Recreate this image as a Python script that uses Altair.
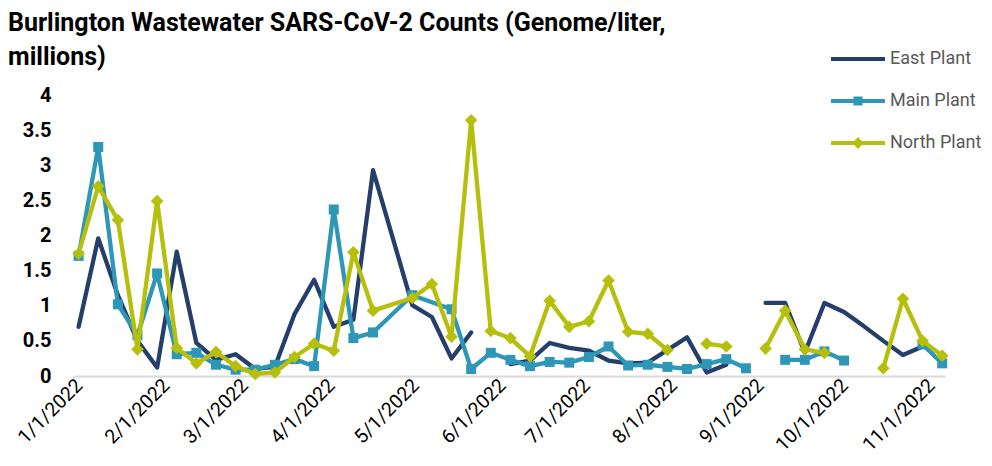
import altair as alt
import pandas as pd

# ---- data ----
dates = [
    "2022-01-03", "2022-01-10", "2022-01-17", "2022-01-24", "2022-01-31",
    "2022-02-07", "2022-02-14", "2022-02-21", "2022-02-28", "2022-03-07",
    "2022-03-14", "2022-03-21", "2022-03-28", "2022-04-04", "2022-04-11",
    "2022-04-18", "2022-04-25", "2022-05-02", "2022-05-09", "2022-05-16",
    "2022-05-23", "2022-05-30", "2022-06-06", "2022-06-13", "2022-06-20",
    "2022-06-27", "2022-07-04", "2022-07-11", "2022-07-18", "2022-07-25",
    "2022-08-01", "2022-08-08", "2022-08-15", "2022-08-22", "2022-08-29",
    "2022-09-05", "2022-09-12", "2022-09-19", "2022-09-26", "2022-10-03",
    "2022-10-10", "2022-10-17", "2022-10-24", "2022-10-31", "2022-11-07",
]

east = [
    0.70, 1.96, 1.15, 0.50, 0.12,
    1.77, 0.47, 0.23, 0.31, 0.10,
    0.13, 0.88, 1.37, 0.70, 0.80,
    2.93, None, 1.01, 0.84, 0.25,
    0.62, None, 0.17, 0.22, 0.47,
    0.40, 0.36, 0.22, 0.18, 0.19,
    0.37, 0.55, 0.05, 0.16, None,
    1.04, 1.04, 0.33, 1.04, 0.91,
    0.71, 0.50, 0.30, 0.42, None,
]

main = [
    1.71, 3.26, 1.02, 0.58, 1.46,
    0.31, 0.33, 0.16, 0.09, 0.09,
    0.16, 0.24, 0.14, 2.37, 0.54,
    0.62, None, 1.15, None, 0.95,
    0.10, 0.33, 0.23, 0.14, 0.20,
    0.19, 0.27, 0.42, 0.15, 0.16,
    0.13, 0.10, 0.17, 0.24, 0.11,
    None, 0.23, 0.23, 0.35, 0.22,
    None, None, None, 0.45, 0.18,
]

north = [
    1.74, 2.70, 2.22, 0.38, 2.49,
    0.40, 0.18, 0.34, 0.14, 0.03,
    0.05, 0.27, 0.46, 0.36, 1.76,
    0.93, None, 1.11, 1.31, 0.56,
    3.64, 0.64, 0.54, 0.28, 1.07,
    0.70, 0.78, 1.36, 0.63, 0.60,
    0.37, None, 0.46, 0.42, None,
    0.39, 0.93, 0.38, 0.33, None,
    None, 0.11, 1.10, 0.50, 0.29,
]

# missing samples on these dates do not break the plotted line
connected_dates = {"2022-04-25", "2022-05-09"}

series_names = ["East Plant", "Main Plant", "North Plant"]
series_values = [east, main, north]
colors = ["#243F6C", "#2E97B8", "#B6BF0B"]
month_ticks = [f"2022-{m:02d}-01" for m in range(1, 12)]

rows = []
for name, vals in zip(series_names, series_values):
    seg = 0
    for d, v in zip(dates, vals):
        if v is None:
            if d not in connected_dates:
                seg += 1
            continue
        rows.append({"date": d, "value": v, "series": name, "seg": f"{name}-{seg}"})
df = pd.DataFrame(rows)

font = "Roboto, Liberation Sans, sans-serif"
color_of = dict(zip(series_names, colors))

x_enc = alt.X(
    "date:T",
    scale=alt.Scale(domain=["2022-01-01", "2022-11-08"]),
    axis=alt.Axis(
        values=month_ticks,
        format="%-m/%-d/%Y",
        labelAngle=-45,
        labelAlign="right",
        labelBaseline="middle",
        labelFontSize=19.5,
        labelColor="#000000",
        labelFont=font,
        labelPadding=0,
        labelOffset=6,
        labelOverlap=False,
        labelBound=False,
        domainColor="#D9D9D9",
        domainWidth=2,
        tickColor="#D9D9D9",
        tickWidth=2,
        tickSize=6,
        grid=False,
        title=None,
    ),
)
y_enc = alt.Y(
    "value:Q",
    scale=alt.Scale(domain=[0, 4]),
    axis=alt.Axis(
        values=[0, 0.5, 1, 1.5, 2, 2.5, 3, 3.5, 4],
        format="~g",
        labelFontSize=20,
        labelFontWeight="bold",
        labelColor="#000000",
        labelFont=font,
        labelPadding=22,
        ticks=False,
        domain=False,
        grid=False,
        title=None,
    ),
)

base = alt.Chart(df)

def line_layer(name):
    return base.transform_filter(alt.datum.series == name).mark_line(
        strokeWidth=4.3, strokeJoin="round", strokeCap="round", color=color_of[name]
    ).encode(x=x_enc, y=y_enc, detail="seg:N")

main_pts = base.transform_filter(alt.datum.series == "Main Plant").mark_point(
    shape="square", filled=True, size=100, opacity=1, color=color_of["Main Plant"]
).encode(x=x_enc, y=y_enc)

north_pts = base.transform_filter(alt.datum.series == "North Plant").mark_point(
    shape="diamond", filled=True, size=160, opacity=1, color=color_of["North Plant"]
).encode(x=x_enc, y=y_enc)

# legend symbols: line with marker
sym_east = "M-1.42,-0.1L1.42,-0.1L1.42,0.1L-1.42,0.1Z"
sym_main = ("M-1.42,-0.1L-0.24,-0.1L-0.24,-0.24L0.24,-0.24L0.24,-0.1L1.42,-0.1"
            "L1.42,0.1L0.24,0.1L0.24,0.24L-0.24,0.24L-0.24,0.1L-1.42,0.1Z")
sym_north = ("M-1.42,-0.1L-0.2,-0.1L0,-0.32L0.2,-0.1L1.42,-0.1L1.42,0.1L0.2,0.1"
             "L0,0.32L-0.2,0.1L-1.42,0.1Z")

# legend-only layer: no rows drawn, legend entries come from the fixed scale domain
legend_layer = base.transform_filter(alt.datum.value < 0).mark_point(
    filled=True, size=1444, opacity=1
).encode(
    x=x_enc, y=y_enc,
    color=alt.Color("series:N", scale=alt.Scale(domain=series_names, range=colors),
                    legend=alt.Legend(
                        title=None, orient="none", legendX=765, legendY=-56,
                        symbolSize=1444, symbolOpacity=1,
                        labelFontSize=18, labelColor="#595959", labelFont=font,
                        labelOffset=12, rowPadding=13,
                    )),
    shape=alt.Shape("series:N",
                    scale=alt.Scale(domain=series_names, range=[sym_east, sym_main, sym_north])),
)

chart = alt.layer(
    line_layer("East Plant"),
    line_layer("Main Plant"),
    main_pts,
    line_layer("North Plant"),
    north_pts,
    legend_layer,
).properties(
    width=872,
    height=281,
    padding={"left": 65, "top": 87, "right": 39, "bottom": 82},
    autosize=alt.AutoSizeParams(type="none"),
    title=alt.TitleParams(
        text=["Burlington Wastewater SARS-CoV-2 Counts (Genome/liter,", "millions)"],
        anchor="start", frame="group", dx=-65, dy=45, offset=14,
        fontSize=25, fontWeight="bold", font=font, color="#000000", lineHeight=34,
    ),
).configure_view(stroke=None)

chart.save("out.html", embed_options={"renderer": "svg", "actions": False})
